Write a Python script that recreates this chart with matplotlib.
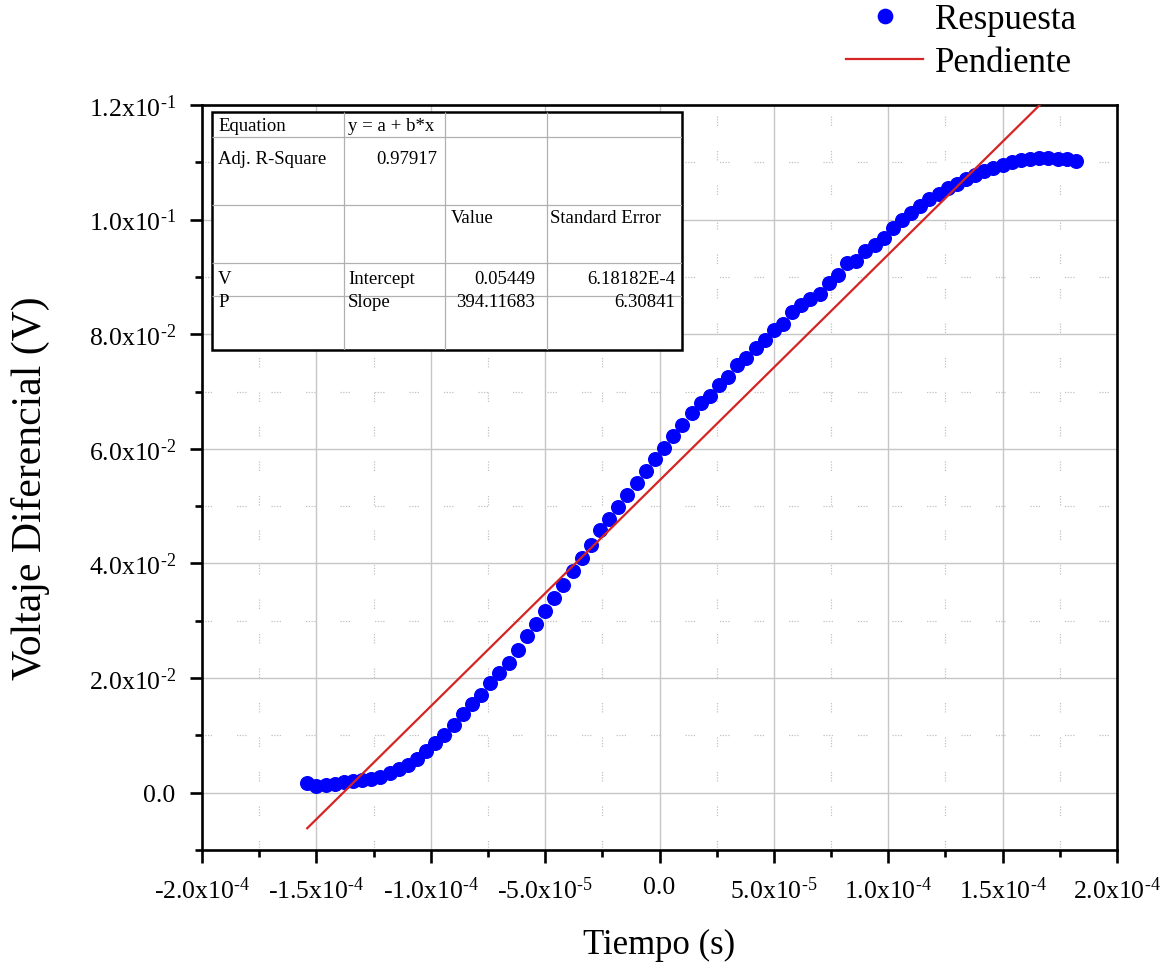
import matplotlib
matplotlib.use("Agg")
import matplotlib.pyplot as plt
from matplotlib.patches import Rectangle
import numpy as np

plt.rcParams["font.family"] = ["Liberation Serif", "DejaVu Serif"]
plt.rcParams["mathtext.fontset"] = "custom"
plt.rcParams["mathtext.rm"] = "Liberation Serif"
plt.rcParams["mathtext.it"] = "Liberation Serif:italic"
plt.rcParams["mathtext.bf"] = "Liberation Serif:bold"

# Measured response: time in microseconds, differential voltage in millivolts
time_us = [-154, -150, -146, -142, -138, -134, -130, -126, -122, -118,
           -114, -110, -106, -102, -98, -94, -90, -86, -82, -78,
           -74, -70, -66, -62, -58, -54, -50, -46, -42, -38,
           -34, -30, -26, -22, -18, -14, -10, -6, -2, 2,
           6, 10, 14, 18, 22, 26, 30, 34, 38, 42,
           46, 50, 54, 58, 62, 66, 70, 74, 78, 82,
           86, 90, 94, 98, 102, 106, 110, 114, 118, 122,
           126, 130, 134, 138, 142, 146, 150, 154, 158, 162,
           166, 170, 174, 178, 182]
voltage_mv = [1.75, 1.22, 1.31, 1.57, 1.83, 2.10, 2.18, 2.45, 2.79, 3.49,
              4.10, 4.89, 5.94, 7.34, 8.73, 10.13, 11.88, 13.71, 15.46, 17.12,
              19.21, 20.87, 22.71, 24.98, 27.34, 29.52, 31.62, 33.89, 36.16, 38.60,
              40.87, 43.14, 45.76, 47.69, 49.78, 51.88, 53.97, 56.07, 58.17, 60.09,
              62.18, 64.10, 66.20, 67.95, 69.17, 71.09, 72.49, 74.59, 75.81, 77.55,
              78.95, 80.70, 81.75, 83.84, 85.07, 86.11, 86.99, 88.91, 90.31, 92.40,
              92.75, 94.50, 95.55, 96.77, 98.52, 99.91, 101.14, 102.36, 103.58, 104.45,
              105.50, 106.20, 107.07, 107.77, 108.47, 108.99, 109.52, 110.04, 110.39, 110.57,
              110.74, 110.83, 110.57, 110.57, 110.22]

# Linear fit results (y = a + b*x)
fit_intercept = 0.05449
fit_intercept_err = 6.18182e-4
fit_slope = 394.11683
fit_slope_err = 6.30841
adj_r_square = 0.97917

HY = "\u2010"  # short hyphen used as the sign in tick labels
x_ticks = [-2.0e-4, -1.5e-4, -1.0e-4, -5.0e-5, 0.0, 5.0e-5, 1.0e-4, 1.5e-4, 2.0e-4]
x_tick_labels = [HY + r"$\mathregular{2.0x10^{‐4}}$", HY + r"$\mathregular{1.5x10^{‐4}}$",
                 HY + r"$\mathregular{1.0x10^{‐4}}$", HY + r"$\mathregular{5.0x10^{‐5}}$",
                 "0.0", r"$\mathregular{5.0x10^{‐5}}$",
                 r"$\mathregular{1.0x10^{‐4}}$", r"$\mathregular{1.5x10^{‐4}}$",
                 r"$\mathregular{2.0x10^{‐4}}$"]
y_ticks = [0.0, 0.02, 0.04, 0.06, 0.08, 0.10, 0.12]
y_tick_labels = ["0.0", r"$\mathregular{2.0x10^{‐2}}$",
                 r"$\mathregular{4.0x10^{‐2}}$", r"$\mathregular{6.0x10^{‐2}}$",
                 r"$\mathregular{8.0x10^{‐2}}$", r"$\mathregular{1.0x10^{‐1}}$",
                 r"$\mathregular{1.2x10^{‐1}}$"]

t = np.array(time_us) * 1e-6
v = np.array(voltage_mv) * 1e-3

W, H = 1169, 970
fig = plt.figure(figsize=(W / 100, H / 100), dpi=100)
fig.patch.set_facecolor("white")


def frac(x0, y0, x1, y1):
    """Figure-fraction rectangle from pixel box (top-left origin)."""
    return [x0 / W, 1 - y1 / H, (x1 - x0) / W, (y1 - y0) / H]


ax = fig.add_axes(frac(202, 106, 1117, 851))
ax.set_xlim(-2.0e-4, 2.0e-4)
ax.set_ylim(-0.01, 0.12)

ax.set_xticks(x_ticks)
ax.set_xticklabels(x_tick_labels)
ax.set_xticks([-1.75e-4, -1.25e-4, -7.5e-5, -2.5e-5, 2.5e-5, 7.5e-5, 1.25e-4, 1.75e-4], minor=True)
ax.set_yticks(y_ticks)
ax.set_yticklabels(y_tick_labels)
ax.set_yticks([-0.01, 0.01, 0.03, 0.05, 0.07, 0.09, 0.11], minor=True)

ax.tick_params(which="major", direction="out", length=9, width=1.9, labelsize=18.5,
               pad=10, top=False, right=False)
ax.tick_params(which="minor", direction="out", length=5, width=1.9, top=False, right=False)
for s in ax.spines.values():
    s.set_linewidth(1.9)

ax.set_axisbelow(True)
ax.grid(which="major", color="#c6c6c6", lw=1.0, ls="-")
ax.grid(which="minor", color="#c0c0c0", lw=0.9,
        ls=(0, (1, 1.2, 1, 1.2, 1, 1.2, 1, 20)))

pts, = ax.plot(t, v, "o", color="#0000ff", mec="#0000ff", ms=9.8,
               label="Respuesta", zorder=3)
t_fit = np.array([t.min(), t.max()])
fit_line, = ax.plot(t_fit, fit_intercept + fit_slope * t_fit, color="#d42424",
                    lw=1.6, label="Pendiente", zorder=4)

ax.set_xlabel("Tiempo (s)", fontsize=25)
ax.xaxis.set_label_coords(0.5, -0.104)
ax.set_ylabel("Voltaje Diferencial (V)", fontsize=30)
ax.yaxis.set_label_coords(-0.166, 0.487)

fig.legend(handles=[pts, fit_line], loc="upper right",
           bbox_to_anchor=(1076 / W, 1 - 4 / H), frameon=False, fontsize=25,
           handlelength=2.2, handletextpad=0.35, labelspacing=0.3,
           borderaxespad=0, borderpad=0, markerscale=1.05, numpoints=1)

# Fit summary table
tx0, ty0, tx1, ty1 = 212, 113, 682, 351
tab = fig.add_axes(frac(tx0, ty0, tx1, ty1), zorder=5)
tab.set_xlim(tx0, tx1)
tab.set_ylim(ty1, ty0)
tab.axis("off")
tab.add_patch(Rectangle((tx0, ty0), tx1 - tx0, ty1 - ty0, facecolor="white",
                        edgecolor="black", lw=1.8, clip_on=False, zorder=1))
col_edges = [344, 445, 547]
row_edges = [138, 206, 264, 297]
tab.vlines(col_edges, ty0, ty1, color="#b0b0b0", lw=0.9, zorder=2)
tab.hlines(row_edges, tx0, tx1, color="#b0b0b0", lw=0.9, zorder=2)


def origin_sci(val):
    mant, ex = f"{val:.5E}".split("E")
    return f"{mant}E{int(ex)}"


fs = 13.5
cells = [
    (218, 126, "Equation", "left"),
    (348, 126, "y = a + b*x", "left"),
    (218, 159, "Adj. R-Square", "left"),
    (437, 159, f"{adj_r_square:.5f}", "right"),
    (451, 218, "Value", "left"),
    (550, 218, "Standard Error", "left"),
    (218, 279, "V", "left"),
    (348, 279, "Intercept", "left"),
    (535, 279, f"{fit_intercept:.5f}", "right"),
    (675, 279, origin_sci(fit_intercept_err), "right"),
    (218, 302, "P", "left"),
    (348, 302, "Slope", "left"),
    (535, 302, f"{fit_slope:.5f}", "right"),
    (675, 302, f"{fit_slope_err:.5f}", "right"),
]
for x, y, s, ha in cells:
    tab.text(x, y, s, ha=ha, va="center", fontsize=fs, zorder=3)

fig.savefig("out.png", dpi=100, facecolor="white")
